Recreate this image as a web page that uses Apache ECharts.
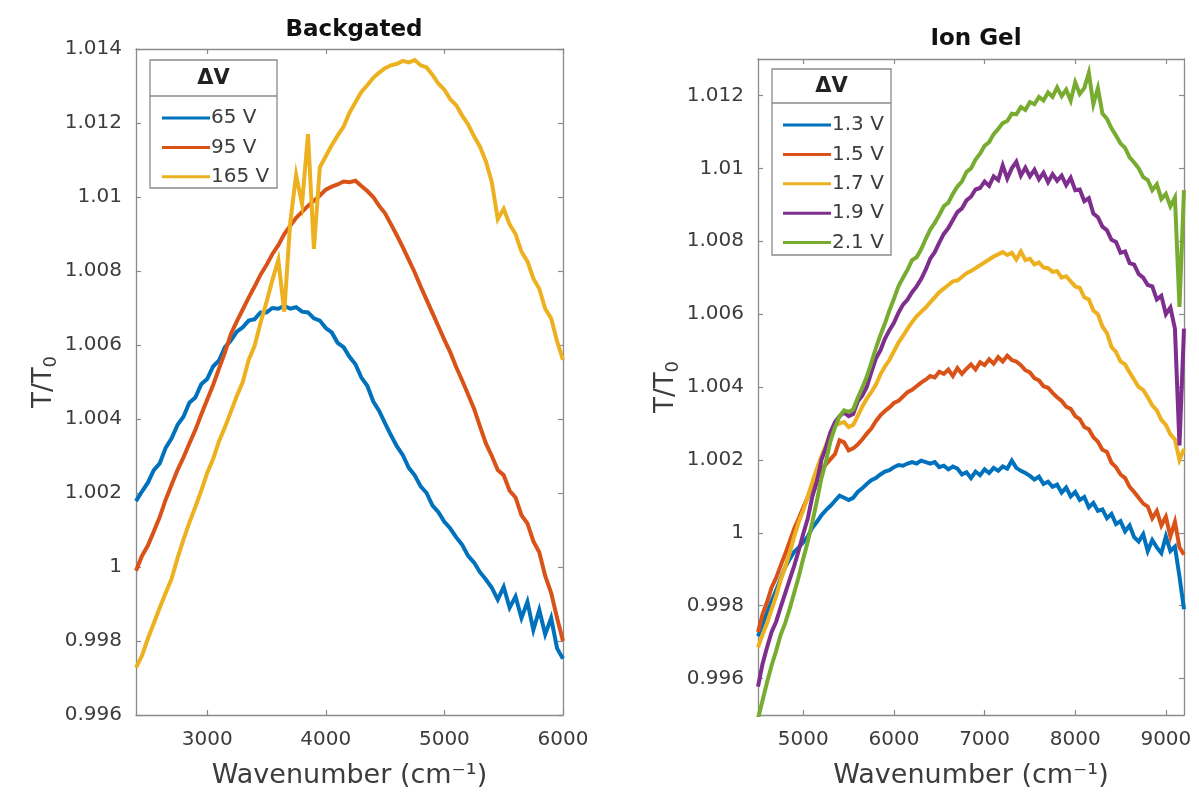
<!DOCTYPE html>
<html>
<head>
<meta charset="utf-8">
<script src="https://cdn.jsdelivr.net/npm/echarts@6/dist/echarts.min.js"></script>
<style>
  html, body { margin: 0; padding: 0; background: #ffffff; }
  #chart { width: 1199px; height: 799px; }
</style>
</head>
<body>
<div id="chart"></div>
<script>
// ---- Backgated panel: wavenumber grid (cm^-1) and T/T0 traces ----
const wavenumberBackgated = [
  2400, 2450, 2500, 2550, 2600, 2650, 2700, 2750, 2800, 2850,
  2900, 2950, 3000, 3050, 3100, 3150, 3200, 3250, 3300, 3350,
  3400, 3450, 3500, 3550, 3600, 3650, 3700, 3750, 3800, 3850,
  3900, 3950, 4000, 4050, 4100, 4150, 4200, 4250, 4300, 4350,
  4400, 4450, 4500, 4550, 4600, 4650, 4700, 4750, 4800, 4850,
  4900, 4950, 5000, 5050, 5100, 5150, 5200, 5250, 5300, 5350,
  5400, 5450, 5500, 5550, 5600, 5650, 5700, 5750, 5800, 5850,
  5900, 5950, 6000
];
const backgated65V = [
  1.00178, 1.00204, 1.00228, 1.00262, 1.00280, 1.00322, 1.00348, 1.00384, 1.00406, 1.00444,
  1.00458, 1.00494, 1.00508, 1.00542, 1.00558, 1.00594, 1.00612, 1.00636, 1.00648, 1.00666,
  1.00670, 1.00688, 1.00688, 1.00700, 1.00698, 1.00706, 1.00698, 1.00702, 1.00690, 1.00688,
  1.00672, 1.00666, 1.00646, 1.00634, 1.00606, 1.00594, 1.00568, 1.00548, 1.00512, 1.00490,
  1.00448, 1.00422, 1.00388, 1.00356, 1.00326, 1.00302, 1.00268, 1.00248, 1.00218, 1.00200,
  1.00166, 1.00148, 1.00122, 1.00104, 1.00080, 1.00060, 1.00030, 1.00012, 0.99986, 0.99966,
  0.99944, 0.99912, 0.99946, 0.99890, 0.99920, 0.99862, 0.99906, 0.99830, 0.99884, 0.99818,
  0.99862, 0.99780, 0.99752
];
const backgated95V = [
  0.99990, 1.00030, 1.00058, 1.00096, 1.00135, 1.00182, 1.00222, 1.00262, 1.00296, 1.00334,
  1.00370, 1.00412, 1.00452, 1.00492, 1.00536, 1.00580, 1.00630, 1.00664, 1.00696, 1.00728,
  1.00758, 1.00790, 1.00816, 1.00846, 1.00870, 1.00900, 1.00922, 1.00944, 1.00960, 1.00976,
  1.00990, 1.01004, 1.01020, 1.01028, 1.01034, 1.01042, 1.01040, 1.01044, 1.01030, 1.01016,
  1.01000, 1.00976, 1.00956, 1.00926, 1.00896, 1.00864, 1.00830, 1.00796, 1.00758, 1.00722,
  1.00686, 1.00650, 1.00614, 1.00580, 1.00540, 1.00504, 1.00466, 1.00428, 1.00380, 1.00334,
  1.00300, 1.00262, 1.00248, 1.00206, 1.00188, 1.00140, 1.00118, 1.00070, 1.00040, 0.99976,
  0.99930, 0.99862, 0.99800
];
const backgated165V = [
  0.99728, 0.99760, 0.99806, 0.99848, 0.99890, 0.99930, 0.99968, 1.00024, 1.00074, 1.00120,
  1.00162, 1.00206, 1.00254, 1.00292, 1.00340, 1.00378, 1.00420, 1.00462, 1.00500, 1.00560,
  1.00598, 1.00660, 1.00716, 1.00776, 1.00830, 1.00690, 1.00930, 1.01060, 1.00980, 1.01170,
  1.00860, 1.01080, 1.01110, 1.01140, 1.01166, 1.01190, 1.01228, 1.01256, 1.01284, 1.01302,
  1.01322, 1.01336, 1.01348, 1.01356, 1.01360, 1.01368, 1.01364, 1.01370, 1.01356, 1.01350,
  1.01330, 1.01306, 1.01290, 1.01264, 1.01248, 1.01220, 1.01196, 1.01164, 1.01136, 1.01096,
  1.01040, 1.00940, 1.00968, 1.00926, 1.00900, 1.00852, 1.00826, 1.00780, 1.00752, 1.00698,
  1.00672, 1.00610, 1.00560
];
const backgatedNames = ['65 V', '95 V', '165 V'];
const backgatedXTicks = [3000, 4000, 5000, 6000];
const backgatedYTicks = [0.996, 0.998, 1, 1.002, 1.004, 1.006, 1.008, 1.01, 1.012, 1.014];

// ---- Ion gel panel ----
const wavenumberIonGel = [
  4500, 4550, 4600, 4650, 4700, 4750, 4800, 4850, 4900, 4950,
  5000, 5050, 5100, 5150, 5200, 5250, 5300, 5350, 5400, 5450,
  5500, 5550, 5600, 5650, 5700, 5750, 5800, 5850, 5900, 5950,
  6000, 6050, 6100, 6150, 6200, 6250, 6300, 6350, 6400, 6450,
  6500, 6550, 6600, 6650, 6700, 6750, 6800, 6850, 6900, 6950,
  7000, 7050, 7100, 7150, 7200, 7250, 7300, 7350, 7400, 7450,
  7500, 7550, 7600, 7650, 7700, 7750, 7800, 7850, 7900, 7950,
  8000, 8050, 8100, 8150, 8200, 8250, 8300, 8350, 8400, 8450,
  8500, 8550, 8600, 8650, 8700, 8750, 8800, 8850, 8900, 8950,
  9000, 9050, 9100, 9150, 9200
];
const ionGel13V = [
  0.99716, 0.99748, 0.99780, 0.99812, 0.99842, 0.99874, 0.99906, 0.99928, 0.99948, 0.99960,
  0.99974, 0.99990, 1.00014, 1.00030, 1.00048, 1.00062, 1.00074, 1.00088, 1.00102, 1.00096,
  1.00090, 1.00096, 1.00112, 1.00122, 1.00134, 1.00144, 1.00150, 1.00160, 1.00168, 1.00172,
  1.00180, 1.00186, 1.00184, 1.00190, 1.00194, 1.00190, 1.00198, 1.00194, 1.00190, 1.00194,
  1.00180, 1.00184, 1.00174, 1.00182, 1.00176, 1.00160, 1.00166, 1.00150, 1.00168, 1.00158,
  1.00174, 1.00164, 1.00178, 1.00170, 1.00182, 1.00176, 1.00198, 1.00178, 1.00170, 1.00164,
  1.00156, 1.00146, 1.00154, 1.00134, 1.00140, 1.00126, 1.00132, 1.00110, 1.00124, 1.00100,
  1.00112, 1.00090, 1.00098, 1.00070, 1.00082, 1.00060, 1.00064, 1.00040, 1.00052, 1.00024,
  1.00032, 1.00004, 1.00020, 0.99988, 0.99976, 0.99996, 0.99950, 0.99980, 0.99960, 0.99944,
  0.99990, 0.99950, 0.99962, 0.99880, 0.99790
];
const ionGel15V = [
  0.99728, 0.99776, 0.99810, 0.99850, 0.99876, 0.99910, 0.99942, 0.99976, 1.00012, 1.00040,
  1.00070, 1.00098, 1.00132, 1.00150, 1.00176, 1.00188, 1.00202, 1.00216, 1.00254, 1.00248,
  1.00226, 1.00232, 1.00242, 1.00256, 1.00272, 1.00286, 1.00306, 1.00322, 1.00334, 1.00344,
  1.00356, 1.00362, 1.00374, 1.00386, 1.00392, 1.00402, 1.00412, 1.00420, 1.00430, 1.00426,
  1.00442, 1.00436, 1.00448, 1.00430, 1.00452, 1.00436, 1.00450, 1.00462, 1.00448, 1.00468,
  1.00460, 1.00476, 1.00464, 1.00482, 1.00470, 1.00486, 1.00474, 1.00470, 1.00460, 1.00446,
  1.00440, 1.00424, 1.00418, 1.00402, 1.00398, 1.00384, 1.00372, 1.00362, 1.00346, 1.00340,
  1.00320, 1.00312, 1.00290, 1.00284, 1.00262, 1.00250, 1.00228, 1.00222, 1.00192, 1.00180,
  1.00160, 1.00150, 1.00126, 1.00112, 1.00096, 1.00080, 1.00072, 1.00040, 1.00060, 1.00020,
  1.00044, 0.99990, 1.00030, 0.99960, 0.99940
];
const ionGel17V = [
  0.99686, 0.99720, 0.99752, 0.99790, 0.99826, 0.99870, 0.99906, 0.99946, 0.99990, 1.00030,
  1.00062, 1.00100, 1.00140, 1.00176, 1.00210, 1.00240, 1.00274, 1.00294, 1.00300, 1.00304,
  1.00290, 1.00296, 1.00320, 1.00346, 1.00368, 1.00386, 1.00406, 1.00434, 1.00456, 1.00474,
  1.00498, 1.00522, 1.00540, 1.00560, 1.00578, 1.00594, 1.00606, 1.00618, 1.00632, 1.00646,
  1.00660, 1.00670, 1.00680, 1.00690, 1.00692, 1.00702, 1.00712, 1.00718, 1.00726, 1.00734,
  1.00742, 1.00750, 1.00758, 1.00764, 1.00770, 1.00762, 1.00768, 1.00750, 1.00772, 1.00748,
  1.00752, 1.00736, 1.00742, 1.00728, 1.00726, 1.00716, 1.00718, 1.00700, 1.00704, 1.00690,
  1.00676, 1.00672, 1.00646, 1.00640, 1.00610, 1.00600, 1.00566, 1.00548, 1.00510, 1.00496,
  1.00470, 1.00462, 1.00440, 1.00420, 1.00400, 1.00392, 1.00372, 1.00350, 1.00336, 1.00310,
  1.00296, 1.00270, 1.00256, 1.00200, 1.00230
];
const ionGel19V = [
  0.99578, 0.99640, 0.99686, 0.99728, 0.99756, 0.99796, 0.99834, 0.99872, 0.99910, 0.99952,
  0.99998, 1.00040, 1.00100, 1.00140, 1.00200, 1.00234, 1.00276, 1.00304, 1.00320, 1.00330,
  1.00320, 1.00326, 1.00360, 1.00376, 1.00400, 1.00440, 1.00478, 1.00500, 1.00532, 1.00556,
  1.00576, 1.00604, 1.00626, 1.00640, 1.00660, 1.00676, 1.00696, 1.00722, 1.00752, 1.00770,
  1.00796, 1.00820, 1.00836, 1.00858, 1.00880, 1.00890, 1.00912, 1.00922, 1.00942, 1.00946,
  1.00964, 1.00952, 1.00978, 1.00968, 1.01008, 1.00972, 1.01000, 1.01018, 1.00980, 1.01002,
  1.00978, 1.00996, 1.00970, 1.00988, 1.00962, 1.00984, 1.00966, 1.00980, 1.00954, 1.00974,
  1.00940, 1.00942, 1.00910, 1.00918, 1.00876, 1.00866, 1.00840, 1.00830, 1.00804, 1.00798,
  1.00768, 1.00772, 1.00740, 1.00736, 1.00710, 1.00700, 1.00680, 1.00676, 1.00640, 1.00650,
  1.00600, 1.00618, 1.00560, 1.00240, 1.00560
];
const ionGel21V = [
  0.99490, 0.99540, 0.99590, 0.99636, 0.99676, 0.99720, 0.99752, 0.99792, 0.99836, 0.99880,
  0.99930, 0.99976, 1.00030, 1.00088, 1.00150, 1.00196, 1.00252, 1.00290, 1.00320, 1.00336,
  1.00332, 1.00338, 1.00370, 1.00398, 1.00428, 1.00466, 1.00506, 1.00542, 1.00574, 1.00610,
  1.00642, 1.00676, 1.00700, 1.00722, 1.00748, 1.00756, 1.00778, 1.00806, 1.00832, 1.00850,
  1.00872, 1.00896, 1.00906, 1.00930, 1.00950, 1.00964, 1.00990, 1.01000, 1.01024, 1.01040,
  1.01062, 1.01072, 1.01094, 1.01108, 1.01124, 1.01130, 1.01150, 1.01148, 1.01168, 1.01160,
  1.01182, 1.01176, 1.01196, 1.01186, 1.01208, 1.01196, 1.01222, 1.01198, 1.01216, 1.01186,
  1.01236, 1.01204, 1.01220, 1.01262, 1.01176, 1.01220, 1.01150, 1.01136, 1.01110, 1.01090,
  1.01068, 1.01056, 1.01030, 1.01016, 1.01000, 1.00976, 1.00968, 1.00940, 1.00956, 1.00916,
  1.00930, 1.00896, 1.00920, 1.00620, 1.00940
];
const ionGelNames = ['1.3 V', '1.5 V', '1.7 V', '1.9 V', '2.1 V'];
const ionGelXTicks = [5000, 6000, 7000, 8000, 9000];
const ionGelYTicks = [0.996, 0.998, 1, 1.002, 1.004, 1.006, 1.008, 1.01, 1.012];

// MATLAB default line colour order
const palette = ['#0072BD', '#D95319', '#EDB120', '#7E2F8E', '#77AC30'];

const FONT = '"DejaVu Sans", Verdana, sans-serif';
const AXIS_GREY = '#8a8a8a';
const TEXT_GREY = '#3c3c3c';

function pairs(xs, ys) {
  return xs.map((x, i) => [x, ys[i]]);
}

// one axis of a boxed frame: ticks drawn inward, optional labels
function xAxisOf(grid, pos, min, max, ticks, labelled) {
  return {
    type: 'value', gridIndex: grid, position: pos, min: min, max: max,
    axisLine: { show: true, onZero: false, lineStyle: { color: AXIS_GREY, width: 1.3 } },
    axisTick: { show: true, inside: true, length: 5, customValues: ticks,
                lineStyle: { color: AXIS_GREY, width: 1.2 } },
    axisLabel: { show: labelled, customValues: ticks, margin: 15,
                 formatter: v => String(v),
                 color: TEXT_GREY, fontFamily: FONT, fontSize: 20 },
    splitLine: { show: false },
    name: labelled ? 'Wavenumber (cm⁻¹)' : '',
    nameLocation: 'middle', nameGap: 47,
    nameTextStyle: { color: TEXT_GREY, fontFamily: FONT, fontSize: 27 }
  };
}
function yAxisOf(grid, pos, min, max, ticks, labelled) {
  return {
    type: 'value', gridIndex: grid, position: pos, min: min, max: max,
    axisLine: { show: true, onZero: false, lineStyle: { color: AXIS_GREY, width: 1.3 } },
    axisTick: { show: true, inside: true, length: 5, customValues: ticks,
                lineStyle: { color: AXIS_GREY, width: 1.2 } },
    axisLabel: { show: labelled, customValues: ticks, margin: 14,
                 formatter: v => String(v),
                 color: TEXT_GREY, fontFamily: FONT, fontSize: 20 },
    splitLine: { show: false },
    name: labelled ? '{t|T/T}{s|0}' : '',
    nameLocation: 'middle', nameGap: 76, nameRotate: 90,
    nameTextStyle: {
      color: TEXT_GREY, fontFamily: FONT,
      rich: {
        t: { fontSize: 26, fontFamily: FONT, color: TEXT_GREY },
        s: { fontSize: 18, fontFamily: FONT, color: TEXT_GREY, padding: [14, 0, 0, 0] }
      }
    }
  };
}

function lineSeries(name, xs, ys, color, xi, yi) {
  return {
    name: name, type: 'line', xAxisIndex: xi, yAxisIndex: yi,
    data: pairs(xs, ys), showSymbol: false, symbol: 'none',
    lineStyle: { color: color, width: 4, join: 'miter' },
    itemStyle: { color: color },
    clip: true, animation: false, z: 3
  };
}

const backgatedSets = [backgated65V, backgated95V, backgated165V];
const ionGelSets = [ionGel13V, ionGel15V, ionGel17V, ionGel19V, ionGel21V];

const series = [];
backgatedSets.forEach((ys, i) =>
  series.push(lineSeries(backgatedNames[i], wavenumberBackgated, ys, palette[i], 0, 0)));
ionGelSets.forEach((ys, i) =>
  series.push(lineSeries(ionGelNames[i], wavenumberIonGel, ys, palette[i], 2, 2)));

function legendOf(names, left, top) {
  return {
    data: names, orient: 'vertical', left: left, top: top,
    icon: 'rect', itemWidth: 48, itemHeight: 3, itemGap: 7.4,
    selectedMode: false, z: 20,
    textStyle: { fontFamily: FONT, fontSize: 20, color: TEXT_GREY, lineHeight: 22,
                 padding: [0, 0, 0, -4] }
  };
}

// legend frame with its "ΔV" heading
function legendFrame(x, y, w, h, sepY) {
  return [
    { type: 'rect', z: 15, shape: { x: x, y: y, width: w, height: h },
      style: { fill: '#ffffff', stroke: AXIS_GREY, lineWidth: 1.3 } },
    { type: 'line', z: 16, shape: { x1: x, y1: sepY, x2: x + w, y2: sepY },
      style: { stroke: AXIS_GREY, lineWidth: 1.3 } },
    { type: 'text', z: 16, x: x + w / 2, y: (y + sepY) / 2 + 1,
      style: { text: 'ΔV', fill: '#222222', font: 'bold 21px ' + FONT,
               align: 'center', verticalAlign: 'middle' } }
  ];
}

const option = {
  backgroundColor: '#ffffff',
  animation: false,
  title: [
    { text: 'Backgated', left: 349, top: 14, textAlign: 'center',
      textStyle: { fontFamily: FONT, fontSize: 23, fontWeight: 'bold', color: '#111111' } },
    { text: 'Ion Gel', left: 971, top: 23, textAlign: 'center',
      textStyle: { fontFamily: FONT, fontSize: 23, fontWeight: 'bold', color: '#111111' } }
  ],
  grid: [
    { left: 136, top: 49, width: 427, height: 666, containLabel: false },
    { left: 758, top: 59, width: 426, height: 656, containLabel: false }
  ],
  xAxis: [
    xAxisOf(0, 'bottom', 2400, 6000, backgatedXTicks, true),
    xAxisOf(0, 'top', 2400, 6000, backgatedXTicks, false),
    xAxisOf(1, 'bottom', 4500, 9200, ionGelXTicks, true),
    xAxisOf(1, 'top', 4500, 9200, ionGelXTicks, false)
  ],
  yAxis: [
    yAxisOf(0, 'left', 0.996, 1.014, backgatedYTicks, true),
    yAxisOf(0, 'right', 0.996, 1.014, backgatedYTicks, false),
    yAxisOf(1, 'left', 0.995, 1.013, ionGelYTicks, true),
    yAxisOf(1, 'right', 0.995, 1.013, ionGelYTicks, false)
  ],
  legend: [
    legendOf(backgatedNames, 157, 102),
    legendOf(ionGelNames, 778, 109)
  ],
  graphic: [
    ...legendFrame(150, 60, 127, 128, 96),
    ...legendFrame(772, 69, 119, 186, 103)
  ],
  series: series
};

const chart = echarts.init(document.getElementById('chart'), null, { renderer: 'canvas' });
chart.setOption(option);
</script>
</body>
</html>
